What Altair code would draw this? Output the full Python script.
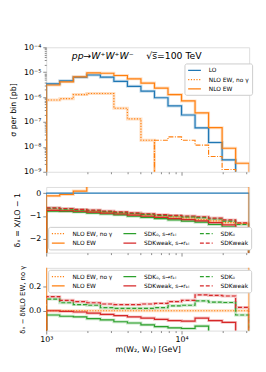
import altair as alt
import pandas as pd

# ---------------- data ----------------
edges = [1000, 1259, 1585, 1995, 2512, 3162, 3981, 5012, 6310, 7943,
         10000, 12589, 15849, 19953, 25119, 31623]

# top panel: sigma per bin [pb]
lo_xs = [3.4e-6, 4.5e-6, 6.3e-6, 7.7e-6, 6.3e-6, 4.3e-6, 2.7e-6, 1.72e-6,
         9.4e-7, 4.4e-7, 1.9e-7, 5.8e-8, 1.5e-8, 3.0e-9]
nlo_ew_xs = [3.05e-6, 4.1e-6, 6.5e-6, 9.3e-6, 9.05e-6, 7.35e-6, 5.4e-6, 3.65e-6,
             2.3e-6, 1.26e-6, 7.0e-7, 2.3e-7, 5.9e-8, 8.8e-9, 2.2e-9]
nogam_pos_xs = [7.6e-7, 8.6e-7, 1.26e-6, 1.39e-6, 1.39e-6, 3.56e-7, 1.32e-7, 1.85e-8]
nogam_neg_xs = [1.85e-8, 2.5e-8, 1.85e-8, 1.17e-8, 4.1e-9, 1.23e-9]   # |value|, bins 9-14

# middle panel: delta_X = X/LO - 1
d_lo = [0.0, 0.0, 0.0, 0.0, 0.0, 0.0, 0.0, 0.0, 0.0, 0.0, 0.0, 0.0, 0.0, 0.0, 0.0]
d_nlo_ew = [-0.12, -0.06, 0.09, 0.45, 0.75, 1.0, 1.3, 1.6, 1.9, 2.2, 2.5, 3.0, 3.0, 2.0, 1.5]
d_nogam = [-0.75, -0.76, -0.78, -0.81, -0.84, -0.87, -0.91, -0.95, -0.99, -1.04,
           -1.08, -1.15, -1.21, -1.29, -1.33]
d_sdk0_s = [-0.79, -0.80, -0.83, -0.87, -0.91, -0.95, -1.01, -1.06, -1.11, -1.17,
            -1.22, -1.27, -1.37, -1.47, -1.65]
d_sdkw_s = [-0.75, -0.77, -0.79, -0.83, -0.87, -0.91, -0.96, -1.01, -1.06, -1.11,
            -1.16, -1.21, -1.29, -1.39, -1.52]
d_sdk0 = [-0.66, -0.70, -0.74, -0.77, -0.81, -0.85, -0.89, -0.93, -0.97, -1.00,
          -1.04, -1.07, -1.13, -1.22, -1.37]
d_sdkw = [-0.64, -0.67, -0.71, -0.74, -0.78, -0.82, -0.86, -0.90, -0.94, -0.97,
          -1.00, -1.03, -1.09, -1.17, -1.30]

# bottom panel: delta_X - delta_(NLO EW, no gamma)
r_nogam = [0.0, 0.0, 0.0, 0.0, 0.0, 0.0, 0.0, 0.0, 0.0, 0.0, 0.0, 0.0, 0.0, 0.0, 0.0]
r_nlo_ew = [0.63, 0.70, 0.87, 1.2, 1.6, 1.9, 2.2, 2.5, 2.9, 3.2, 3.5, 4.1, 4.2, 3.3, 2.8]
r_sdk0_s = [-0.035, -0.045, -0.05, -0.065, -0.075, -0.09, -0.10, -0.115, -0.13, -0.14,
            -0.145, -0.125, -0.25, -0.30, -0.35]
r_sdkw_s = [0.0, -0.005, -0.01, -0.02, -0.03, -0.04, -0.05, -0.06, -0.07, -0.08,
            -0.085, -0.06, -0.08, -0.095, -0.30]
r_sdk0 = [0.095, 0.065, 0.05, 0.045, 0.025, 0.02, 0.02, 0.02, 0.025, 0.04,
          0.045, 0.08, 0.07, 0.067, -0.035]
r_sdkw = [0.115, 0.085, 0.075, 0.065, 0.055, 0.05, 0.05, 0.055, 0.06, 0.075,
          0.085, 0.13, 0.125, 0.12, 0.027]

S_LO = "LO"
S_NOG = "NLO EW, no γ"
S_NLO = "NLO EW"
S_SDK0S = "SDK₀, s→rₖₗ"
S_SDKWS = "SDKweak, s→rₖₗ"
S_SDK0 = "SDK₀"
S_SDKW = "SDKweak"

X_TICKS = [1000, 2000, 3000, 4000, 5000, 6000, 7000, 8000, 9000, 10000, 20000, 30000]
X_TITLE = "m(W₂, W₃) [GeV]"
Y1_TICKS = [m * 10.0 ** k for k in range(-9, -4) for m in range(1, 10)] + [1e-4]
Y1_EXP = ["⁻⁹", "⁻⁸", "⁻⁷", "⁻⁶", "⁻⁵", "⁻⁴"]
Y2_TICKS = [-2, -1, 0]
Y3_TICKS = [0.0, 0.2]
TITLE_A = "pp→W⁺W⁺W⁻"
TITLE_B = "√s̅=100 TeV"

BLUE, ORANGE, GREEN, RED = "#1f77b4", "#ff7f0e", "#2ca02c", "#d62728"
SOLID, DOT, DASH, DASHDOT = [1, 0], [1.2, 1.6], [4, 2], [5, 1.5, 1, 1.5]
FONT = "DejaVu Sans"


def steps(values, series, base, start=0):
    rows = [dict(m=edges[start], y=base, series=series, o=0)]
    o = 1
    for i, v in enumerate(values):
        rows.append(dict(m=edges[start + i], y=v, series=series, o=o)); o += 1
        rows.append(dict(m=edges[start + i + 1], y=v, series=series, o=o)); o += 1
    rows.append(dict(m=edges[start + len(values)], y=base, series=series, o=o))
    return rows


W = 207
xscale = alt.Scale(type="log", domain=[edges[0], edges[-1]], nice=False)
XMAJ = "datum.value == 1000 || datum.value == 10000"


def x_enc(show):
    ax = alt.Axis(values=X_TICKS, labels=show, labelFlush=False, labelOverlap=False,
                  labelExpr="datum.value == 1000 ? '10³' : datum.value == 10000 ? '10⁴' : ''",
                  tickSize={"condition": {"test": XMAJ, "value": 3.5}, "value": 2},
                  labelFontSize=8, labelPadding=2, grid=False, domain=False,
                  titleFontSize=8, titleFontWeight="normal", titlePadding=2)
    if show:
        return alt.X("m:Q", scale=xscale, axis=ax, title=X_TITLE)
    return alt.X("m:Q", scale=xscale, axis=ax, title=None)


def legend(x, y, cols, fs, cp):
    return alt.Legend(title=None, orient="none", legendX=x, legendY=y, columns=cols,
                      direction="vertical",
                      symbolType="M-2,0H2", symbolSize=42.25, symbolStrokeWidth=1.3,
                      symbolOffset=3.25,
                      labelFontSize=fs, labelFont=FONT, labelOffset=10.5, padding=3,
                      rowPadding=2.5, columnPadding=cp, gridAlign="each",
                      strokeColor="#cccccc", fillColor="white", cornerRadius=2,
                      labelLimit=300)


def halos(df, doms, cols, x, y):
    out = []
    seen = set()
    for s, c in zip(doms, cols):
        if s in seen:
            continue
        seen.add(s)
        out.append(alt.Chart(df).transform_filter(alt.datum.series == s).mark_line(
            clip=True, strokeWidth=3, opacity=0.25, color=c).encode(x=x, y=y, order="o:Q"))
    return out


# ---------------- panel 1 ----------------
top_rows = (steps(lo_xs, S_LO, 1e-12) + steps(nogam_pos_xs, S_NOG, 1e-12)
            + steps(nlo_ew_xs, S_NLO, 1e-12))
top_df = pd.DataFrame(top_rows)
neg_df = pd.DataFrame(steps(nogam_neg_xs, "neg", 1e-12, start=8))

dom1 = [S_LO, S_NOG, S_NLO]
col1 = [BLUE, ORANGE, ORANGE]
leg1 = legend(141, 16.5, 1, 6, 6)
MAJ1 = "abs(log(datum.value)/LN10 - round(log(datum.value)/LN10)) < 0.001"
y1 = alt.Y("y:Q", scale=alt.Scale(type="log", domain=[1e-9, 1e-4], nice=False),
           axis=alt.Axis(values=Y1_TICKS, labelOverlap=False, grid=False, domain=False,
                         labelExpr=MAJ1 + " ? '10' + " + str(Y1_EXP).replace(" ", "")
                                   + "[round(log(datum.value)/LN10) + 9] : ''",
                         tickSize={"condition": {"test": MAJ1, "value": 3.5}, "value": 2},
                         labelFontSize=8, labelPadding=2, titleFontSize=8, titleFontWeight="normal",
                         titlePadding=6.5),
           title="σ per bin [pb]")

main1 = alt.Chart(top_df).mark_line(clip=True, strokeWidth=1.2).encode(
    x=x_enc(False), y=y1,
    color=alt.Color("series:N", scale=alt.Scale(domain=dom1, range=col1), legend=leg1),
    strokeDash=alt.StrokeDash("series:N", scale=alt.Scale(domain=dom1, range=[SOLID, DOT, SOLID]), legend=leg1),
    order="o:Q")
neg1 = alt.Chart(neg_df).mark_line(clip=True, strokeWidth=1.2, color=ORANGE, strokeDash=DASHDOT).encode(
    x=x_enc(False), y=y1, order="o:Q")
ta = alt.Chart(pd.DataFrame({"t": [TITLE_A]})).mark_text(
    font=FONT, fontSize=9.5, fontStyle="italic", align="left", baseline="alphabetic").encode(
    text="t:N", x=alt.value(26), y=alt.value(11.5))
tb = alt.Chart(pd.DataFrame({"t": [TITLE_B]})).mark_text(
    font=FONT, fontSize=9.5, align="left", baseline="alphabetic").encode(
    text="t:N", x=alt.value(102), y=alt.value(11.5))
p1 = alt.layer(*halos(top_df, dom1, col1, x_enc(False), y1), main1, neg1, ta, tb).properties(
    width=W, height=127)

# ---------------- panel 2 ----------------
# legend entries fill column by column: (no gamma, NLO EW), (SDK0 s->r, SDKweak s->r), (SDK0, SDKweak)
dom2 = [S_NOG, S_NLO, S_SDK0S, S_SDKWS, S_SDK0, S_SDKW]
col2 = [ORANGE, ORANGE, GREEN, RED, GREEN, RED]
dash2 = [DOT, SOLID, SOLID, SOLID, DASH, DASH]

mid_df = pd.DataFrame(steps(d_nogam, S_NOG, -5) + steps(d_sdk0_s, S_SDK0S, -5)
                      + steps(d_sdkw_s, S_SDKWS, -5) + steps(d_sdk0, S_SDK0, -5)
                      + steps(d_sdkw, S_SDKW, -5) + steps(d_nlo_ew, S_NLO, -5))
lo2_df = pd.DataFrame(steps(d_lo, S_LO, -5))
y2 = alt.Y("y:Q", scale=alt.Scale(domain=[-2.6, 0.27], nice=False, zero=False),
           axis=alt.Axis(values=Y2_TICKS, grid=False, domain=False, format="d", tickSize=3.5,
                         labelFontSize=8, labelPadding=2, titleFontSize=8, titleFontWeight="normal",
                         titlePadding=8),
           title="δₓ = X/LO − 1")
leg2 = legend(2, 40.7, 3, 6, 8)
lo2 = alt.Chart(lo2_df).mark_line(clip=True, strokeWidth=1.2, color=BLUE).encode(
    x=x_enc(False), y=y2, order="o:Q")
main2 = alt.Chart(mid_df).mark_line(clip=True, strokeWidth=1.2).encode(
    x=x_enc(False), y=y2,
    color=alt.Color("series:N", scale=alt.Scale(domain=dom2, range=col2), legend=leg2),
    strokeDash=alt.StrokeDash("series:N", scale=alt.Scale(domain=dom2, range=dash2), legend=leg2),
    order="o:Q")
p2 = alt.layer(*halos(mid_df, dom2, col2, x_enc(False), y2), lo2, main2).properties(
    width=W, height=67)

# ---------------- panel 3 ----------------
bot_df = pd.DataFrame(steps(r_nogam, S_NOG, -1) + steps(r_sdk0_s, S_SDK0S, -1)
                      + steps(r_sdkw_s, S_SDKWS, -1) + steps(r_sdk0, S_SDK0, -1)
                      + steps(r_sdkw, S_SDKW, -1) + steps(r_nlo_ew, S_NLO, -1))
y3 = alt.Y("y:Q", scale=alt.Scale(domain=[-0.162, 0.35], nice=False, zero=False),
           axis=alt.Axis(values=Y3_TICKS, grid=False, domain=False, format=".1f", tickSize=3.5,
                         labelFontSize=8, labelPadding=2, titleFontSize=7, titleFontWeight="normal",
                         titlePadding=3),
           title="δₓ − δNLO EW, no γ")
leg3 = legend(2, 2, 3, 6, 8)
main3 = alt.Chart(bot_df).mark_line(clip=True, strokeWidth=1.2).encode(
    x=x_enc(True), y=y3,
    color=alt.Color("series:N", scale=alt.Scale(domain=dom2, range=col2), legend=leg3),
    strokeDash=alt.StrokeDash("series:N", scale=alt.Scale(domain=dom2, range=dash2), legend=leg3),
    order="o:Q")
p3 = alt.layer(*halos(bot_df, dom2, col2, x_enc(True), y3), main3).properties(width=W, height=64)

chart = alt.vconcat(p1, p2, p3, spacing=15.5, bounds="flush").resolve_scale(
    y="independent", color="independent", strokeDash="independent"
).properties(
    padding={"left": 0, "top": 31.5, "right": 5, "bottom": 5}
).configure_view(
    stroke="#333333", strokeWidth=1
).configure_axis(
    labelFont=FONT, titleFont=FONT, tickColor="#333333", tickWidth=0.8, labelColor="#111111",
    titleColor="#111111"
).configure(font=FONT)

chart.save("out.html", embed_options={"renderer": "svg", "actions": False})
